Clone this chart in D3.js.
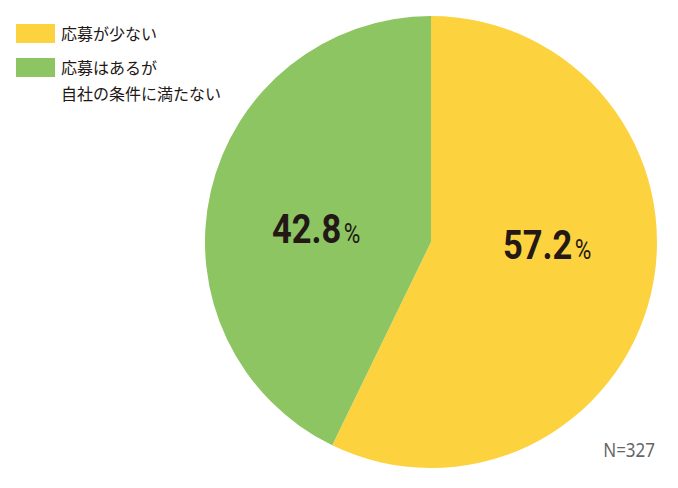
<!DOCTYPE html>
<html><head><meta charset="utf-8">
<script src="https://cdn.jsdelivr.net/npm/d3@7"></script>
<style>body{margin:0;background:#fff}</style>
</head><body>
<svg id="c" width="678" height="488"></svg>
<script>
const categories = ["応募が少ない", "応募はあるが自社の条件に満たない"];
const legendLines = [["応募が少ない"], ["応募はあるが", "自社の条件に満たない"]];
const values = [57.2, 42.8];
const colors = ["#FCD33F", "#8CC562"];
const note = "N=327";

const svg = d3.select("#c");
const cx = 431, cy = 242, r = 226;
const pie = d3.pie().sort(null).value(d => d)(values);
const arc = d3.arc().innerRadius(0).outerRadius(r);
const g = svg.append("g").attr("transform", `translate(${cx},${cy})`);
g.selectAll("path").data(pie).join("path").attr("d", arc).attr("fill", (d, i) => colors[i]);

const labelPos = [[503, 259], [272, 243]];
pie.forEach((d, i) => {
  const lgp = svg.append("g").attr("transform", `translate(${labelPos[i][0]},${labelPos[i][1]}) scale(0.84,1)`);
  const t = lgp.append("text").attr("x", 0).attr("y", 0)
    .attr("fill", "#231815")
    .style("font-family", "Roboto,sans-serif");
  t.append("tspan").attr("font-size", 41).attr("font-weight", "bold").text(values[i].toFixed(1));
  t.append("tspan").attr("font-size", 27).attr("dx", 3).attr("font-weight", "normal").text("%");
});

const lg = svg.append("g");
const rowsY = [24, 58];
categories.forEach((c, i) => {
  lg.append("rect").attr("x", 16).attr("y", rowsY[i]).attr("width", 39).attr("height", 19).attr("fill", colors[i]);
  legendLines[i].forEach((ln, j) => {
    lg.append("text").attr("x", 61).attr("y", rowsY[i] + 16 + j * 26)
      .attr("font-size", 16).attr("fill", "#231815")
      .style("font-family", "'Noto Sans CJK JP',sans-serif").text(ln);
  });
});

svg.append("g").attr("transform", "translate(655,457) scale(0.85,1)")
  .append("text").attr("x", 0).attr("y", 0).attr("text-anchor", "end")
  .attr("font-size", 20).attr("fill", "#666")
  .style("font-family", "'Noto Sans','DejaVu Sans',sans-serif").text(note);
</script>
</body></html>
